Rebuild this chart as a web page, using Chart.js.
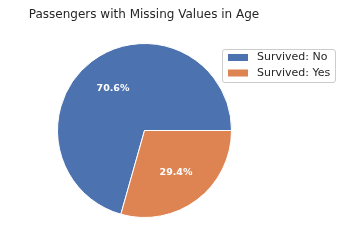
<!DOCTYPE html>
<html><head><meta charset="utf-8">
<script src="https://cdn.jsdelivr.net/npm/chart.js@4/dist/chart.umd.min.js"></script>
<style>html,body{margin:0;padding:0;background:#fff;}#wrap{width:341px;height:247px;}</style>
</head><body><div id="wrap"><canvas id="c" width="341" height="247"></canvas></div>
<script>
const categories = ["Survived: No", "Survived: Yes"];
const counts = [125, 52];
const colors = ["#4c72b0", "#dd8452"];
const titleText = "Passengers with Missing Values in Age";

const total = counts.reduce((a, b) => a + b, 0);
const rotationDeg = 90 + 360 * counts[1] / total;
const FONT = "'DejaVu Sans', sans-serif";

const overlay = {
  id: 'overlay',
  afterDraw(chart) {
    const ctx = chart.ctx;
    ctx.save();
    // title
    ctx.fillStyle = '#262626';
    ctx.font = '12px ' + FONT;
    ctx.textAlign = 'center';
    ctx.textBaseline = 'alphabetic';
    ctx.fillText(titleText, 144, 18);
    // percentage labels
    const meta = chart.getDatasetMeta(0);
    ctx.font = 'bold 9.5px ' + FONT;
    ctx.fillStyle = '#ffffff';
    ctx.textBaseline = 'middle';
    meta.data.forEach((arc, i) => {
      const p = arc.getProps(['x', 'y', 'startAngle', 'endAngle', 'outerRadius']);
      const mid = (p.startAngle + p.endAngle) / 2;
      const r = p.outerRadius * 0.6;
      const pct = (100 * counts[i] / total).toFixed(1) + '%';
      ctx.fillText(pct, p.x + r * Math.cos(mid), p.y + r * Math.sin(mid));
    });
    // legend
    const lx = 222.5, ly = 49.5, lw = 113, lh = 33, rad = 2.5;
    ctx.beginPath();
    ctx.moveTo(lx + rad, ly);
    ctx.arcTo(lx + lw, ly, lx + lw, ly + lh, rad);
    ctx.arcTo(lx + lw, ly + lh, lx, ly + lh, rad);
    ctx.arcTo(lx, ly + lh, lx, ly, rad);
    ctx.arcTo(lx, ly, lx + lw, ly, rad);
    ctx.closePath();
    ctx.fillStyle = 'rgba(255,255,255,0.85)';
    ctx.fill();
    ctx.strokeStyle = '#cccccc';
    ctx.lineWidth = 1;
    ctx.stroke();
    ctx.font = '11px ' + FONT;
    ctx.textAlign = 'left';
    categories.forEach((c, i) => {
      const y = 57.5 + i * 15.5;
      ctx.fillStyle = colors[i];
      ctx.fillRect(228, y - 3.5, 20, 7);
      ctx.fillStyle = '#262626';
      ctx.fillText(c, 257, y);
    });
    ctx.restore();
  }
};

new Chart(document.getElementById('c'), {
  type: 'pie',
  data: {
    labels: categories,
    datasets: [{
      data: counts,
      backgroundColor: colors,
      borderColor: '#ffffff',
      borderWidth: 1,
      hoverOffset: 0
    }]
  },
  options: {
    responsive: false,
    animation: false,
    rotation: rotationDeg,
    layout: { padding: { left: 57, right: 109, top: 43, bottom: 29 } },
    plugins: {
      legend: { display: false },
      title: { display: false },
      tooltip: { enabled: false }
    }
  },
  plugins: [overlay]
});
</script>
</body></html>
